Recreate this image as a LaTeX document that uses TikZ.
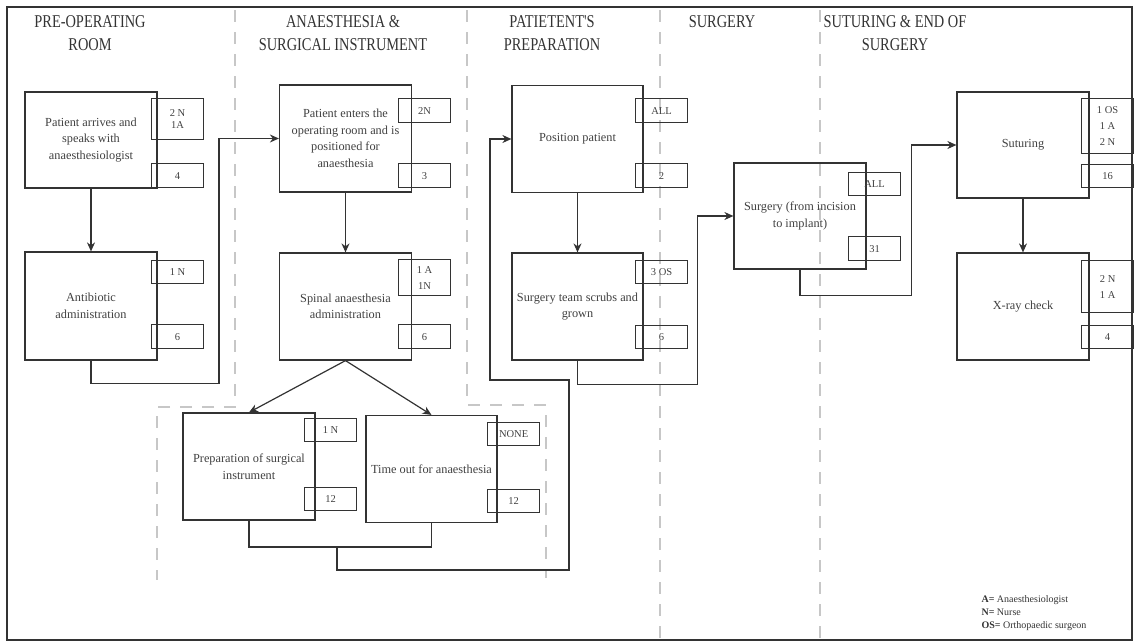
\documentclass[tikz,border=0pt]{standalone}
\usepackage{fontspec}
\setmainfont{Liberation Serif}
\newfontfamily\headfont{Liberation Serif}[FakeStretch=0.8]
\usetikzlibrary{arrows.meta,positioning}

\tikzset{
  task/.style={draw=black!80, line width=1.2pt, minimum width=132pt, minimum height=107pt,
    inner sep=2pt, align=center, text=black!75, font=\fontsize{12.3}{16.5}\selectfont},
  staff/.style={draw=black!80, line width=1.2pt, minimum width=52pt, minimum height=24pt,
    inner sep=0pt, anchor=north west, align=center, text=black!75, font=\fontsize{10.5}{16}\selectfont},
  phase/.style={align=center, text=black!80, font=\headfont\fontsize{18}{23}\selectfont},
  lane/.style={draw=black!22, line width=2.5pt, dash pattern=on 12pt off 10pt},
  flow/.style={draw=black!80, line width=1.2pt},
  keytext/.style={align=left, text=black!80, font=\fontsize{10}{13}\selectfont},
}

\begin{document}
\begin{tikzpicture}[x=1pt,y=-1pt,>={Stealth[length=9pt,width=8pt]}]
  \useasboundingbox (0,0) rectangle (1136,643);
  \draw[black!80, line width=1.5pt] (7,7) rectangle (1132,640);

  % lanes
  \draw[lane] (235,10) -- (235,407) -- (157,407) -- (157,580);
  \draw[lane] (467,10) -- (467,405) -- (546,405) -- (546,578);
  \draw[lane] (660,10) -- (660,638);
  \draw[lane] (820,10) -- (820,638);

  % phases
  \node[phase] (h1) at (90,33.5)  {PRE-OPERATING\\ROOM};
  \node[phase] (h2) at (343,33.5) {ANAESTHESIA \&\\SURGICAL INSTRUMENT};
  \node[phase] (h3) at (552,33.5) {PATIETENT'S\\PREPARATION};
  \node[phase] (h4) at (722,22)   {SURGERY};
  \node[phase] (h5) at (895,33.5) {SUTURING \& END OF\\SURGERY};

  % tasks
  \node[task, minimum height=96pt]  (a1) at (91,140)    {Patient arrives and\\speaks with\\anaesthesiologist};
  \node[task, minimum height=108pt] (a2) at (91,306)    {Antibiotic\\administration};
  \node[task]                       (b1) at (345.5,138.5) {Patient enters the\\operating room and is\\positioned for\\anaesthesia};
  \node[task]                       (b2) at (345.5,306.5) {Spinal anaesthesia\\administration};
  \node[task]                       (c1) at (249,466.5) {Preparation of surgical\\instrument};
  \node[task, minimum width=131pt]  (c2) at (431.5,469) {Time out for anaesthesia};
  \node[task, minimum width=131pt]  (d1) at (577.5,139) {Position patient};
  \node[task, minimum width=131pt]  (d2) at (577.5,306.5) {Surgery team scrubs and\\grown};
  \node[task, minimum height=106pt] (e1) at (800,216)   {Surgery (from incision\\to implant)};
  \node[task, minimum height=106pt] (f1) at (1023,145)  {Suturing};
  \node[task]                       (f2) at (1023,306.5) {X-ray check};

  % staff and minutes
  \node[staff, minimum height=41pt, font=\fontsize{10.5}{12}\selectfont] (a1s) at (151,98) {2 N\\1A};
  \node[staff]                      (a1t) at (151,163) {4};
  \node[staff, minimum height=23pt] (a2s) at (151,260) {1 N};
  \node[staff]                      (a2t) at (151,324) {6};
  \node[staff]                      (b1s) at (398,98)  {2N};
  \node[staff]                      (b1t) at (398,163) {3};
  \node[staff, minimum height=36pt] (b2s) at (398,259) {1 A\\1N};
  \node[staff]                      (b2t) at (398,324) {6};
  \node[staff, minimum height=23pt] (c1s) at (304,418) {1 N};
  \node[staff, minimum height=23pt] (c1t) at (304,487) {12};
  \node[staff, minimum height=23pt] (c2s) at (487,422) {NONE};
  \node[staff, minimum height=23pt] (c2t) at (487,489) {12};
  \node[staff]                      (d1s) at (635,98)  {ALL};
  \node[staff]                      (d1t) at (635,163) {2};
  \node[staff, minimum height=23pt] (d2s) at (635,260) {3 OS};
  \node[staff, minimum height=23pt] (d2t) at (635,325) {6};
  \node[staff, minimum height=23pt] (e1s) at (848,172) {ALL};
  \node[staff]                      (e1t) at (848,236) {31};
  \node[staff, minimum height=55pt] (f1s) at (1081,98) {1 OS\\1 A\\2 N};
  \node[staff, minimum height=23pt] (f1t) at (1081,164) {16};
  \node[staff, minimum height=52pt] (f2s) at (1081,260) {2 N\\1 A};
  \node[staff, minimum height=23pt] (f2t) at (1081,325) {4};

  % flow
  \draw[flow,->] (a1) -- (a2);
  \draw[flow,->] (a2.south) -- ++(0,23) -| ([xshift=-60pt]b1.west) -- (b1.west);
  \draw[flow,->] (b1) -- (b2);
  \draw[flow,->] (b2.south) -- (c1.north);
  \draw[flow,->] (b2.south) -- (c2.north);
  \coordinate (cj) at (337,547);
  \draw[flow] (c1.south) |- (cj) -| (c2.south);
  \draw[flow,->] (cj) |- (569,570) |- (490,380) |- (d1.west);
  \draw[flow,->] (d1) -- (d2);
  \draw[flow,->] (d2.south) -- ++(0,24) -| ([xshift=-36pt]e1.west) -- (e1.west);
  \draw[flow,->] (e1.south) -- ++(0,26) -| ([xshift=-45pt]f1.west) -- (f1.west);
  \draw[flow,->] (f1) -- (f2);

  \node[keytext, anchor=west] (key) at (978,613)
    {\textbf{A=} Anaesthesiologist\\\textbf{N=} Nurse\\\textbf{OS=} Orthopaedic surgeon};
\end{tikzpicture}
\end{document}
